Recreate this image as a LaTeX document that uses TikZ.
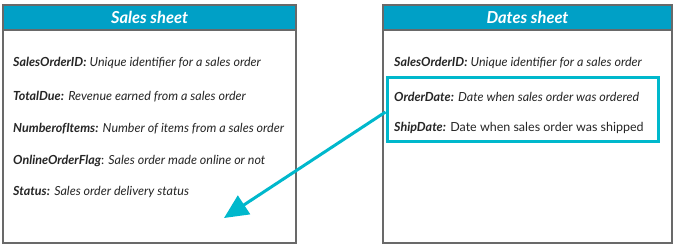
\documentclass[tikz,border=0pt]{standalone}
\usepackage{fontspec}
\setmainfont{Lato}
\usetikzlibrary{arrows.meta}
\definecolor{headblue}{RGB}{0,160,198}
\definecolor{hilite}{RGB}{0,184,204}
\definecolor{frame}{RGB}{105,105,105}
\newcommand{\fkey}[1]{{\bfseries\itshape #1}}
\tikzset{
  sheet/.style={draw=frame, line width=1.4pt, fill=white},
  sheethead/.style={draw=frame, line width=1.4pt, fill=headblue},
  headtext/.style={text=white, font=\fontsize{16.5}{19}\selectfont\bfseries\itshape},
  field/.style={anchor=west, inner sep=0pt, font=\fontsize{12.5}{14}\selectfont, text=black!85},
  mark box/.style={draw=hilite, line width=3pt},
  link/.style={draw=hilite, line width=3pt, -{Triangle[length=24pt,width=22pt]}}
}
\begin{document}
\begin{tikzpicture}[x=1pt,y=-1pt]
\useasboundingbox (0,0) rectangle (677,250);
% Sales sheet
\draw[sheet] (3,5) rectangle (296,243);
\draw[sheethead] (3,5) rectangle (296,30);
\node[headtext] (salesTitle) at (149.5,17.5) {Sales sheet};
\node[field] (s1) at (13,63) {\fkey{SalesOrderID:} \textit{Unique identifier for a sales order}};
\node[field] (s2) at (13,97) {\fkey{TotalDue:} \textit{Revenue earned from a sales order}};
\node[field] (s3) at (13,129) {\fkey{NumberofItems:} \textit{Number of items from a sales order}};
\node[field] (s4) at (13,161) {\fkey{OnlineOrderFlag}: \textit{Sales order made online or not}};
\node[field] (s5) at (13,192) {\fkey{Status:} \textit{Sales order delivery status}};
\coordinate (drop) at (224,218);
% Dates sheet
\draw[sheet] (383,5) rectangle (672,243);
\draw[sheethead] (383,5) rectangle (672,30);
\node[headtext] (datesTitle) at (527.5,17.5) {Dates sheet};
\node[field] (d1) at (394,63) {\fkey{SalesOrderID:} \textit{Unique identifier for a sales order}};
\node[field] (d2) at (394,97) {\fkey{OrderDate:} \textit{Date when sales order was ordered}};
\node[field] (d3) at (394,128) {\fkey{ShipDate:} Date when sales order was shipped};
% highlighted date fields and the link back to the sales sheet
\node[mark box, minimum width=271pt, minimum height=64pt, inner sep=0pt] (dates) at (522.5,109) {};
\draw[link] (dates.west) ++(0,3) coordinate (start) (start) -- (drop);
\end{tikzpicture}
\end{document}
